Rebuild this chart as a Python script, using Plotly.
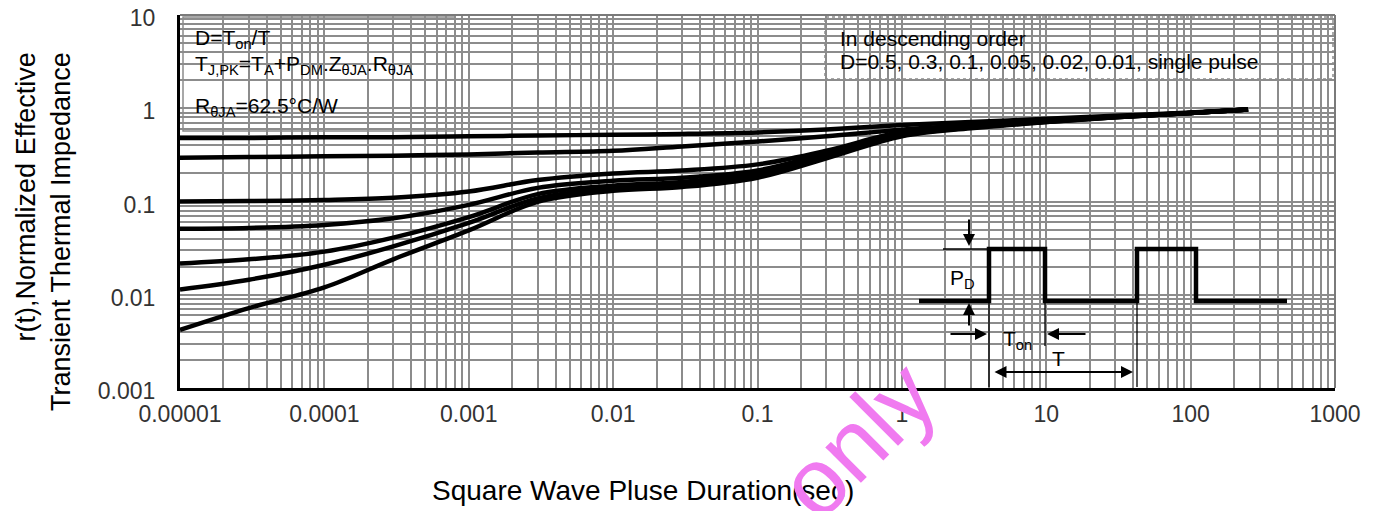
import plotly.graph_objects as go

# ---------------- data ----------------
t = [1e-5, 3e-5, 1e-4, 3e-4, 1e-3, 3e-3, 1e-2, 3e-2, 0.1, 0.3, 1, 3, 10, 30, 100, 250]
d_05 = [0.48, 0.48, 0.49, 0.49, 0.50, 0.51, 0.52, 0.53, 0.55, 0.59, 0.66, 0.71, 0.77, 0.83, 0.90, 0.97]
d_03 = [0.295, 0.30, 0.305, 0.31, 0.32, 0.335, 0.35, 0.39, 0.44, 0.50, 0.59, 0.66, 0.74, 0.81, 0.89, 0.97]
d_01 = [0.100, 0.101, 0.104, 0.110, 0.128, 0.17, 0.20, 0.215, 0.25, 0.35, 0.56, 0.65, 0.73, 0.81, 0.89, 0.97]
d_005 = [0.051, 0.052, 0.056, 0.066, 0.092, 0.14, 0.167, 0.18, 0.215, 0.33, 0.54, 0.64, 0.72, 0.81, 0.89, 0.97]
d_002 = [0.0216, 0.024, 0.029, 0.041, 0.068, 0.12, 0.148, 0.162, 0.20, 0.31, 0.52, 0.63, 0.72, 0.80, 0.89, 0.97]
d_001 = [0.0114, 0.0145, 0.021, 0.033, 0.059, 0.108, 0.138, 0.152, 0.19, 0.30, 0.51, 0.62, 0.71, 0.80, 0.89, 0.97]
single = [0.0042, 0.0072, 0.012, 0.024, 0.049, 0.099, 0.13, 0.143, 0.18, 0.29, 0.50, 0.61, 0.71, 0.80, 0.89, 0.97]
series = [("D=0.5", d_05), ("D=0.3", d_03), ("D=0.1", d_01), ("D=0.05", d_005),
          ("D=0.02", d_002), ("D=0.01", d_001), ("single pulse", single)]

x_tickvals = [1e-5, 1e-4, 1e-3, 1e-2, 1e-1, 1, 10, 100, 1000]
x_ticktext = ["0.00001", "0.0001", "0.001", "0.01", "0.1", "1", "10", "100", "1000"]
y_tickvals = [0.001, 0.01, 0.1, 1, 10]
y_ticktext = ["0.001", "0.01", "0.1", "1", "10"]

# ---------------- layout geometry ----------------
W, H = 1378, 511
PAGE = 8                      # page offset of the figure div in the browser
PL, PT, PR, PB = 180, 15, 1335, 388   # wanted plot-area edges on screen
PW, PH = PR - PL, PB - PT
L, T = PL - PAGE, PT - PAGE
R, B = W - L - PW, H - T - PH
GRID = "#8c8c8c"
FONT = "Liberation Sans, Arial, sans-serif"


def px(x):
    return (x - PL) / PW


def py(y):
    return (PB - y) / PH


fig = go.Figure()
for name, vals in series:
    fig.add_trace(go.Scatter(x=t, y=vals, mode="lines", name=name,
                             line=dict(color="black", width=4.5, shape="spline", smoothing=1.0),
                             showlegend=False))

x_minor = [m * 10 ** e for e in range(-5, 3) for m in range(2, 10)]
y_minor = [m * 10 ** e for e in range(-3, 1) for m in range(2, 10)]

fig.update_xaxes(type="log", range=[-5, 3], tickmode="array", tickvals=x_tickvals, ticktext=x_ticktext,
                 showgrid=True, gridcolor=GRID, gridwidth=1.7, ticks="", ticklabelstandoff=3,
                 ticklabeloverflow="allow",
                 tickfont=dict(family=FONT, size=23, color="#333333"), automargin=False,
                 minor=dict(tickmode="array", tickvals=x_minor, showgrid=True, gridcolor=GRID, gridwidth=1.7),
                 showline=True, linecolor="black", linewidth=3, zeroline=False)
fig.update_yaxes(type="log", range=[-3, 1], tickmode="array", tickvals=y_tickvals, ticktext=y_ticktext,
                 showgrid=True, gridcolor=GRID, gridwidth=1.7, ticks="", ticklabelstandoff=17,
                 ticklabelshift=3, ticklabeloverflow="allow",
                 tickfont=dict(family=FONT, size=23, color="#333333"), automargin=False,
                 minor=dict(tickmode="array", tickvals=y_minor, showgrid=True, gridcolor=GRID, gridwidth=1.7),
                 showline=True, linecolor="black", linewidth=3, zeroline=False)

shapes = []
# gray top/right frame
shapes.append(dict(type="line", xref="paper", yref="paper", x0=0, x1=1, y0=1, y1=1,
                   line=dict(color="#7a7a7a", width=2), layer="above"))
shapes.append(dict(type="line", xref="paper", yref="paper", x0=1, x1=1, y0=0, y1=1,
                   line=dict(color="#7a7a7a", width=2), layer="above"))
# white text boxes
shapes.append(dict(type="rect", xref="paper", yref="paper", x0=px(183), x1=px(455), y0=py(131), y1=py(17),
                   fillcolor="white", line=dict(color="#8c8c8c", width=1.5), layer="between"))
shapes.append(dict(type="rect", xref="paper", yref="paper", x0=px(825), x1=px(1333), y0=py(79), y1=py(17),
                   fillcolor="white", line=dict(color="#8c8c8c", width=1.5, dash="dot"), layer="between"))
# inset box
shapes.append(dict(type="rect", xref="paper", yref="paper", x0=px(912), x1=px(1310), y0=py(373), y1=py(188),
                   fillcolor="white", line=dict(width=0), layer="between"))

# inset waveform
wave = [(919, 301), (989, 301), (989, 249), (1045, 249), (1045, 301), (1137, 301),
        (1137, 249), (1196, 249), (1196, 301), (1287, 301)]
path = "M " + " L ".join(f"{px(a):.5f},{py(b):.5f}" for a, b in wave)
shapes.append(dict(type="path", xref="paper", yref="paper", path=path,
                   line=dict(color="black", width=4.5), layer="above"))
for (a0, b0, a1, b1) in [(943, 249, 989, 249), (989, 301, 989, 387), (1045, 301, 1045, 346), (1137, 301, 1137, 387)]:
    shapes.append(dict(type="line", xref="paper", yref="paper", x0=px(a0), y0=py(b0), x1=px(a1), y1=py(b1),
                       line=dict(color="black", width=1.3), layer="above"))
fig.update_layout(shapes=shapes)

ann = []
txt = dict(family=FONT, size=21, color="black")


def label(x, y, text, xanchor="center", **kw):
    d = dict(xref="paper", yref="paper", x=px(x), y=py(y), xanchor=xanchor, yanchor="middle",
             text=text, showarrow=False, font=txt)
    d.update(kw)
    return d


ann.append(label(193, 39, "D=T<sub>on</sub>/T", xanchor="left"))
ann.append(label(193, 65, "T<sub>J,PK</sub>=T<sub>A</sub>+P<sub>DM</sub>.Z<sub>θJA</sub>.R<sub>θJA</sub>", xanchor="left"))
ann.append(label(193, 107, "R<sub>θJA</sub>=62.5°C/W", xanchor="left"))
ann.append(label(838, 38, "In descending order", xanchor="left"))
ann.append(label(838, 62, "D=0.5, 0.3, 0.1, 0.05, 0.02, 0.01, single pulse", xanchor="left"))
# inset labels
ann.append(label(962, 279, "P<sub>D</sub>"))
ann.append(label(1017, 340, "T<sub>on</sub>"))
ann.append(label(1058, 358, "T"))
arrow = dict(xref="paper", yref="paper", text="", showarrow=True, arrowhead=2, arrowsize=1.2,
             arrowwidth=2, arrowcolor="black", axref="pixel", ayref="pixel")
ann.append(dict(arrow, x=px(969), y=py(246), ax=0, ay=-28))
ann.append(dict(arrow, x=px(969), y=py(303), ax=0, ay=24))
ann.append(dict(arrow, x=px(987), y=py(334), ax=-38, ay=0))
ann.append(dict(arrow, x=px(1047), y=py(334), ax=40, ay=0))
ann.append(dict(arrow, x=px(1133), y=py(372), ax=-140, ay=0, arrowside="end+start"))
# axis titles
ann.append(label(643, 490, "Square Wave Pluse Duration(sec)", font=dict(family=FONT, size=28, color="black")))
ann.append(label(44, 232, "r(t),Normalized Effective<br>Transient Thermal Impedance", textangle=-90,
                 align="right", font=dict(family=FONT, size=27, color="black")))
# watermark
ann.append(label(857, 440, "only", textangle=-45, font=dict(family=FONT, size=95, color="#f07af0")))
fig.update_layout(annotations=ann)

fig.update_layout(width=W, height=H, margin=dict(l=L, r=R, t=T, b=B, autoexpand=False),
                  plot_bgcolor="white", paper_bgcolor="white", showlegend=False)
fig.write_html("out.html")
